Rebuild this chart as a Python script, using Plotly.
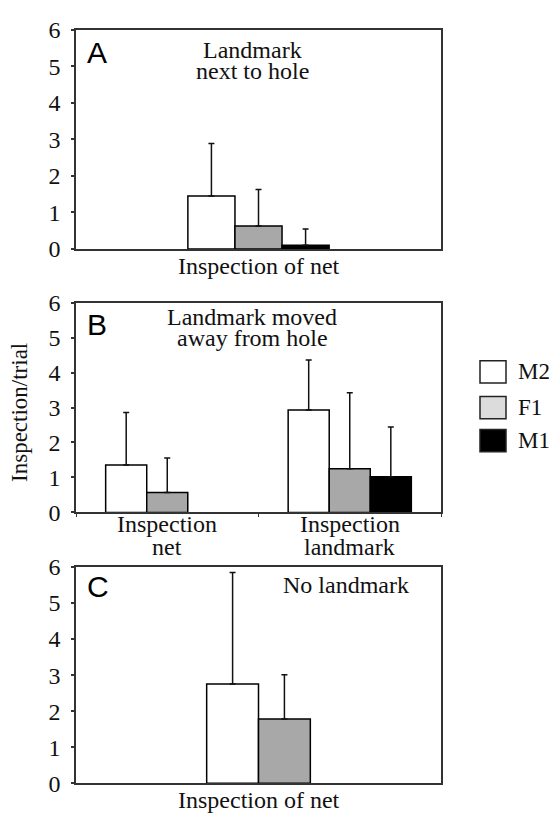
import plotly.graph_objects as go

W, H = 551, 825

# ---------------- data ----------------
series = ["M2", "F1", "M1"]
cats_a = ["Inspection of net"]
cats_b = ["Inspection net", "Inspection landmark"]
cats_b_lines = [["Inspection", "net"], ["Inspection", "landmark"]]
cats_c = ["Inspection of net"]

a_vals = {"M2": [1.45], "F1": [0.63], "M1": [0.10]}
a_err = {"M2": [1.44], "F1": [1.00], "M1": [0.45]}

b_vals = {"M2": [1.36, 2.93], "F1": [0.57, 1.25], "M1": [None, 1.02]}
b_err = {"M2": [1.50, 1.43], "F1": [0.99, 2.17], "M1": [None, 1.42]}

c_series = ["M2", "F1"]
c_vals = {"M2": [2.75], "F1": [1.78]}
c_err = {"M2": [3.10], "F1": [1.23]}

yticks = [0, 1, 2, 3, 4, 5, 6]
title_lines = {"A": ["Landmark", "next to hole"],
               "B": ["Landmark moved", "away from hole"],
               "C": ["No landmark"]}
ylabel = "Inspection/trial"

# ---------------- styles ----------------
fills = {"M2": "#ffffff", "F1": "#a8a8a8", "M1": "#000000"}
legend_fills = {"M2": "#ffffff", "F1": "#dcdcdc", "M1": "#000000"}
SERIF = "Liberation Serif, Times New Roman, DejaVu Serif, serif"
SANS = "Liberation Sans, Arial, sans-serif"
AX = "#333333"
TXT = "#111111"


def px_x(p):
    return p / W


def px_y(p):
    return 1 - p / H


fig = go.Figure()


def add_panel(cats, vals, errs, names, xa, ya, bw):
    n = len(names)
    for i, s in enumerate(names):
        fig.add_trace(go.Bar(
            x=cats, y=vals[s], name=s, showlegend=False,
            xaxis=xa, yaxis=ya,
            width=bw, offset=(i - n / 2) * bw,
            marker=dict(color=fills[s], line=dict(color="#000", width=1.5)),
            error_y=dict(type="data", array=errs[s], arrayminus=[0] * len(cats),
                         symmetric=False, color=TXT, thickness=1.5, width=3),
        ))


add_panel(cats_a, a_vals, a_err, series, "x", "y", 0.129)
add_panel(cats_b, b_vals, b_err, series, "x2", "y2", 0.225)
add_panel(cats_c, c_vals, c_err, c_series, "x3", "y3", 0.142)

xdom = [px_x(76), px_x(441)]
doms = {
    1: [px_y(243.7), px_y(17.3)],
    2: [px_y(515.7), px_y(299)],
    3: [px_y(795.3), px_y(572)],
}

common_x = dict(type="category", showline=True, mirror=True, linecolor=AX, linewidth=1.5,
                showgrid=False, zeroline=False, showticklabels=False, fixedrange=True)
common_y = dict(range=[0, 6], tickvals=yticks, ticks="outside", ticklen=3, tickcolor=AX,
                tickwidth=1.5, showline=True, mirror=True, linecolor=AX, linewidth=1.5,
                showgrid=False, zeroline=False, ticklabelstandoff=6,
                tickfont=dict(family=SERIF, size=24, color=TXT), fixedrange=True)

layout = dict(
    width=W, height=H, margin=dict(l=0, r=0, t=0, b=0),
    paper_bgcolor="white", plot_bgcolor="white", barmode="group", showlegend=False,
    xaxis=dict(common_x, domain=xdom, anchor="y", range=[-0.5, 0.5], ticks=""),
    yaxis=dict(common_y, domain=doms[1], anchor="x"),
    xaxis2=dict(common_x, domain=xdom, anchor="y2", range=[-0.5, 1.5], ticks="outside",
                tickson="boundaries", ticklen=3, tickcolor=AX),
    yaxis2=dict(common_y, domain=doms[2], anchor="x2"),
    xaxis3=dict(common_x, domain=xdom, anchor="y3", range=[-0.5, 0.5], ticks=""),
    yaxis3=dict(common_y, domain=doms[3], anchor="x3"),
)
fig.update_layout(**layout)

ann = []


def text(t, x, y, size, xref="paper", xanchor="center", family=SERIF, angle=0, color=TXT):
    ann.append(dict(text=t, x=x, y=px_y(y), xref=xref, yref="paper",
                    xanchor=xanchor, yanchor="middle", showarrow=False, textangle=angle,
                    font=dict(family=family, size=size, color=color)))


# panel letters
for letter, cy in [("A", 41), ("B", 322), ("C", 592)]:
    text(letter, px_x(85), cy, 30, xanchor="left", family=SANS, color="#000")
# panel titles, one annotation per line (tight line spacing)
for key, cx, ys in [("A", 252, [38, 60]), ("B", 252, [314, 336]), ("C", 346, [591])]:
    for line, cy in zip(title_lines[key], ys):
        text(line, px_x(cx), cy, 24)
# category labels
text(cats_a[0], cats_a[0], 261, 24, xref="x")
for cat, lines in zip(cats_b, cats_b_lines):
    for j, line in enumerate(lines):
        text(line, cat, 528 + 23 * j, 24, xref="x2")
text(cats_c[0], cats_c[0], 813, 24, xref="x3")
# y axis title
text(ylabel, px_x(20), 413, 23, angle=-90)

# manual legend
shapes = []
legend_rows = [359, 396, 430]
for s, top in zip(series, legend_rows):
    shapes.append(dict(type="rect", xref="paper", yref="paper",
                       x0=px_x(480), x1=px_x(506), y0=px_y(top + 23), y1=px_y(top),
                       fillcolor=legend_fills[s], line=dict(color="#222", width=1.5)))
    text(s, px_x(516), top + 11.5, 23, xanchor="left")

fig.update_layout(annotations=ann, shapes=shapes)
fig.write_html("out.html")
